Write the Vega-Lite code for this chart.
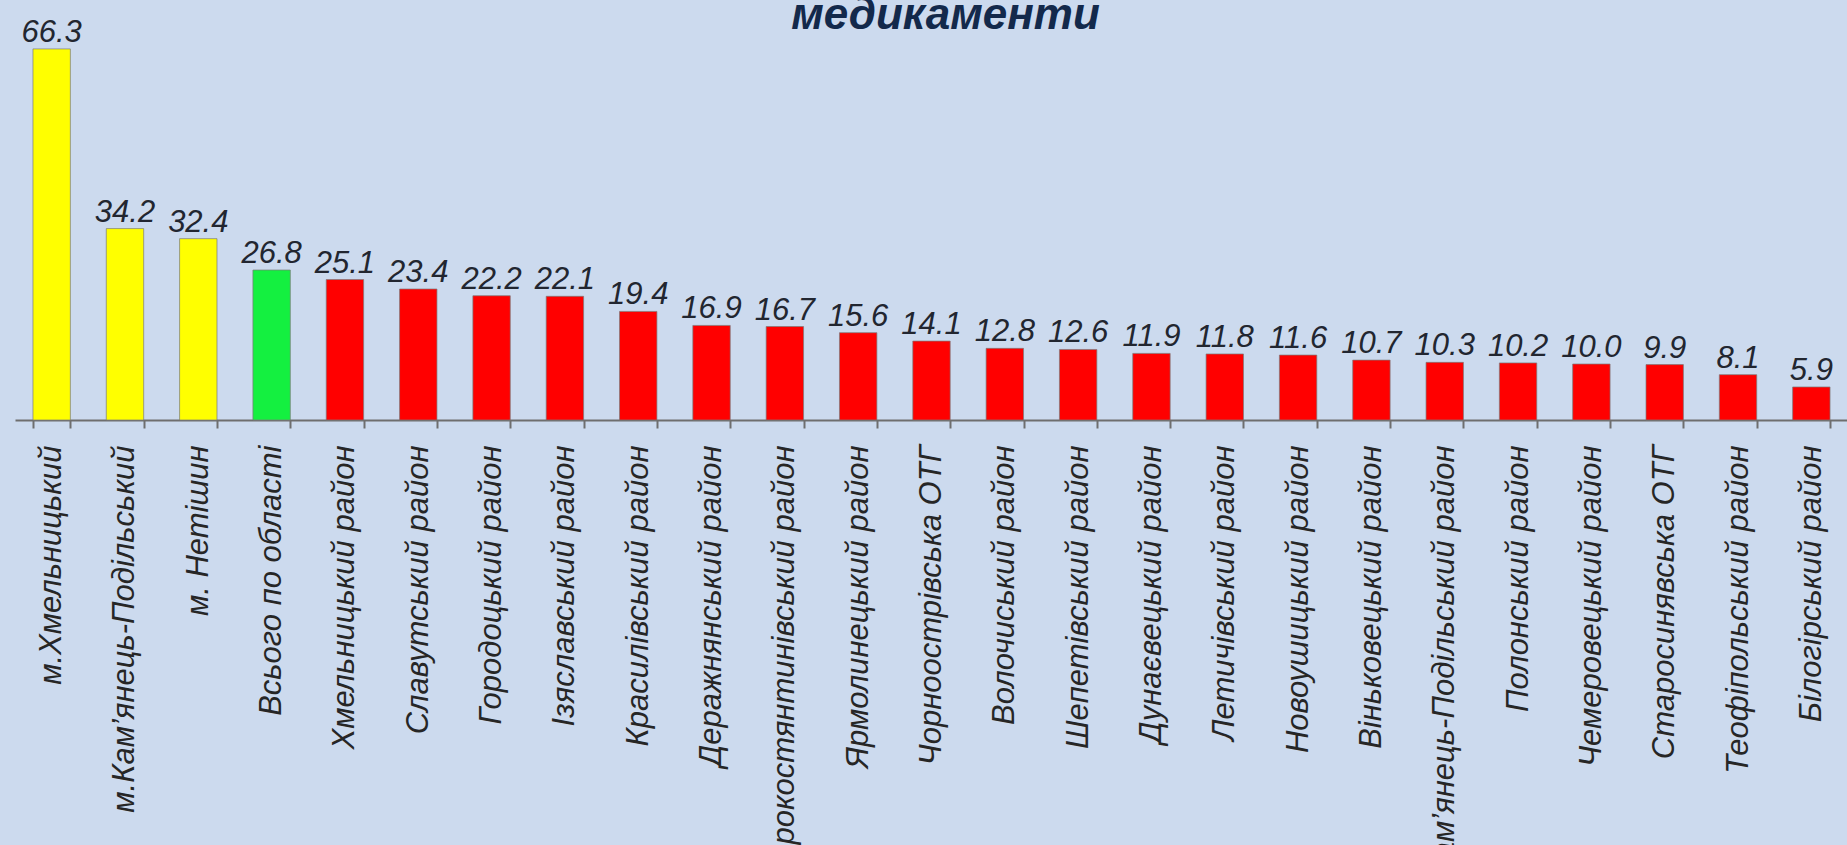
{
  "$schema": "https://vega.github.io/schema/vega-lite/v6.json",
  "autosize": "none",
  "width": 1833,
  "height": 375,
  "padding": {"left": 15, "top": 45, "right": 0, "bottom": 425},
  "background": "#ccdaee",
  "title": {
    "text": "медикаменти",
    "font": "Liberation Sans",
    "fontSize": 44,
    "fontWeight": "bold",
    "fontStyle": "italic",
    "color": "#13294b",
    "anchor": "middle",
    "offset": -21,
    "dx": 14
  },
  "data": {
    "values": [
      {"name": "м.Хмельницький", "value": 66.3, "group": "city"},
      {"name": "м.Кам’янець-Подільський", "value": 34.2, "group": "city"},
      {"name": "м. Нетішин", "value": 32.4, "group": "city"},
      {"name": "Всього по області", "value": 26.8, "group": "total"},
      {"name": "Хмельницький район", "value": 25.1, "group": "district"},
      {"name": "Славутський район", "value": 23.4, "group": "district"},
      {"name": "Городоцький район", "value": 22.2, "group": "district"},
      {"name": "Ізяславський район", "value": 22.1, "group": "district"},
      {"name": "Красилівський район", "value": 19.4, "group": "district"},
      {"name": "Деражнянський район", "value": 16.9, "group": "district"},
      {"name": "Старокостянтинівський район", "value": 16.7, "group": "district"},
      {"name": "Ярмолинецький район", "value": 15.6, "group": "district"},
      {"name": "Чорноострівська ОТГ", "value": 14.1, "group": "district"},
      {"name": "Волочиський район", "value": 12.8, "group": "district"},
      {"name": "Шепетівський район", "value": 12.6, "group": "district"},
      {"name": "Дунаєвецький район", "value": 11.9, "group": "district"},
      {"name": "Летичівський район", "value": 11.8, "group": "district"},
      {"name": "Новоушицький район", "value": 11.6, "group": "district"},
      {"name": "Віньковецький район", "value": 10.7, "group": "district"},
      {"name": "Кам’янець-Подільський район", "value": 10.3, "group": "district"},
      {"name": "Полонський район", "value": 10.2, "group": "district"},
      {"name": "Чемеровецький район", "value": 10.0, "group": "district"},
      {"name": "Старосинявська ОТГ", "value": 9.9, "group": "district"},
      {"name": "Теофіпольський район", "value": 8.1, "group": "district"},
      {"name": "Білогірський район", "value": 5.9, "group": "district"}
    ]
  },
  "encoding": {
    "x": {
      "field": "name",
      "type": "nominal",
      "sort": null,
      "scale": {"paddingInner": 0.49, "paddingOuter": 0.245},
      "axis": {
        "title": null,
        "labelAngle": -90,
        "labelAlign": "right",
        "labelBaseline": "middle",
        "labelFont": "Liberation Sans",
        "labelFontSize": 31,
        "labelFontStyle": "italic",
        "labelColor": "#262626",
        "labelPadding": 17,
        "labelLimit": 2000,
        "labelOverlap": false,
        "tickBand": "extent",
        "tickSize": 8,
        "tickColor": "#6e6e6e",
        "tickWidth": 2,
        "domainColor": "#6e6e6e",
        "domainWidth": 2,
        "grid": false
      }
    },
    "y": {
      "field": "value",
      "type": "quantitative",
      "scale": {"domain": [0, 67], "nice": false, "zero": true},
      "axis": null
    }
  },
  "layer": [
    {
      "mark": {"type": "bar", "stroke": "#7a7a7a", "strokeWidth": 1, "strokeOpacity": 0.7},
      "encoding": {
        "color": {
          "field": "group",
          "type": "nominal",
          "scale": {"domain": ["city", "total", "district"], "range": ["#ffff00", "#14f040", "#ff0000"]},
          "legend": null
        }
      }
    },
    {
      "mark": {
        "type": "text",
        "baseline": "alphabetic",
        "align": "center",
        "dy": -7,
        "font": "Liberation Sans",
        "fontSize": 31,
        "fontStyle": "italic",
        "color": "#222630"
      },
      "encoding": {
        "text": {"field": "value", "type": "quantitative", "format": ".1f"}
      }
    }
  ],
  "config": {"view": {"stroke": null}}
}
